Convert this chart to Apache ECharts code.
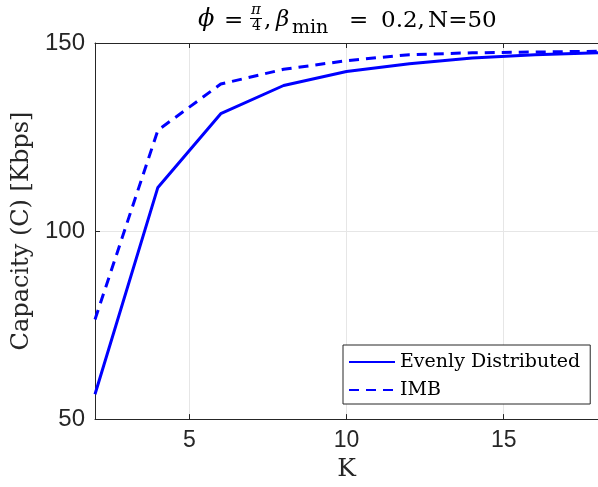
<!DOCTYPE html>
<html><head><meta charset="utf-8">
<script src="https://cdn.jsdelivr.net/npm/echarts@6/dist/echarts.min.js"></script>
<style>html,body{margin:0;padding:0;background:#fff}#c{width:598px;height:487px}</style>
</head><body><div id="c"></div>
<script>
const K = [2, 4, 6, 8, 10, 12, 14, 16, 18];
const evenly = [56.6, 111.6, 131.2, 138.7, 142.4, 144.5, 146.0, 146.9, 147.4];
const imb = [76.5, 126.8, 139.1, 143.0, 145.3, 146.9, 147.4, 147.6, 147.8];
const xTicks = [5, 10, 15];
const seriesNames = ['Evenly Distributed', 'IMB'];

const chart = echarts.init(document.getElementById('c'));
const serif = 'DejaVu Serif';
const sans = 'Liberation Sans';
const axisColor = '#262626';
const T = (x, y, text, font) => ({type: 'text', x: x, y: y, silent: true,
  style: {text: text, font: font, fill: '#000', verticalAlign: 'top'}});
chart.setOption({
  animation: false,
  grid: {left: 95, top: 43, right: -3, bottom: 67},
  legend: {
    left: 343, top: 345, orient: 'vertical',
    backgroundColor: '#fff', borderColor: '#262626', borderWidth: 1, borderRadius: 0,
    padding: [7, 10, 4, 5], itemGap: 8, itemWidth: 46, itemHeight: 14,
    itemStyle: {opacity: 0},
    textStyle: {fontFamily: serif, fontSize: 19, lineHeight: 20, color: '#000'},
    data: seriesNames
  },
  xAxis: [{
    type: 'value', min: 2, max: 18, position: 'bottom',
    name: 'K', nameLocation: 'middle', nameGap: 33,
    nameTextStyle: {fontFamily: serif, fontSize: 25, color: '#262626'},
    axisLine: {show: true, lineStyle: {color: axisColor}},
    axisTick: {show: true, inside: true, length: 5, customValues: xTicks, lineStyle: {color: axisColor}},
    axisLabel: {customValues: xTicks, fontFamily: sans, fontSize: 23, color: '#262626', margin: 10},
    splitLine: {show: true, lineStyle: {color: '#e6e6e6'}}
  }, {
    type: 'value', min: 2, max: 18, position: 'top',
    axisLine: {show: true, lineStyle: {color: axisColor}},
    axisTick: {show: true, inside: true, length: 5, customValues: xTicks, lineStyle: {color: axisColor}},
    axisLabel: {show: false},
    splitLine: {show: false}
  }],
  yAxis: {
    type: 'value', min: 50, max: 150, interval: 50,
    name: 'Capacity (C) [Kbps]', nameLocation: 'middle', nameGap: 58,
    nameTextStyle: {fontFamily: serif, fontSize: 24, color: '#262626'},
    axisLine: {show: true, lineStyle: {color: axisColor}},
    axisTick: {show: true, inside: true, length: 5, lineStyle: {color: axisColor}},
    axisLabel: {fontFamily: sans, fontSize: 24, color: '#262626', margin: 10},
    splitLine: {show: true, lineStyle: {color: '#e6e6e6'}}
  },
  series: [{
    name: seriesNames[0], type: 'line', data: K.map((k, i) => [k, evenly[i]]),
    showSymbol: false, symbol: 'none', lineStyle: {color: '#0000ff', width: 3}, itemStyle: {color: '#0000ff'}
  }, {
    name: seriesNames[1], type: 'line', data: K.map((k, i) => [k, imb[i]]),
    showSymbol: false, symbol: 'none', lineStyle: {color: '#0000ff', width: 3, type: [10, 7]}, itemStyle: {color: '#0000ff'}
  }],
  graphic: [
    T(198, 8, 'ϕ', 'italic 24px ' + serif),
    T(224, 10, '=', '23px ' + serif),
    T(251, 3, 'π', 'italic 15px ' + serif),
    {type: 'line', silent: true, shape: {x1: 250, y1: 18.5, x2: 262, y2: 18.5}, style: {stroke: '#000', lineWidth: 1}},
    T(252, 19, '4', '14px ' + serif),
    T(264, 10, ',', '23px ' + serif),
    T(276, 9, 'β', 'italic 23px ' + serif),
    T(292, 19, 'min', '19px ' + serif),
    T(349, 10, '=', '23px ' + serif),
    T(381, 10, '0.2,', '23px ' + serif),
    T(428, 10, 'N=50', '23px ' + serif)
  ]
});
</script></body></html>
